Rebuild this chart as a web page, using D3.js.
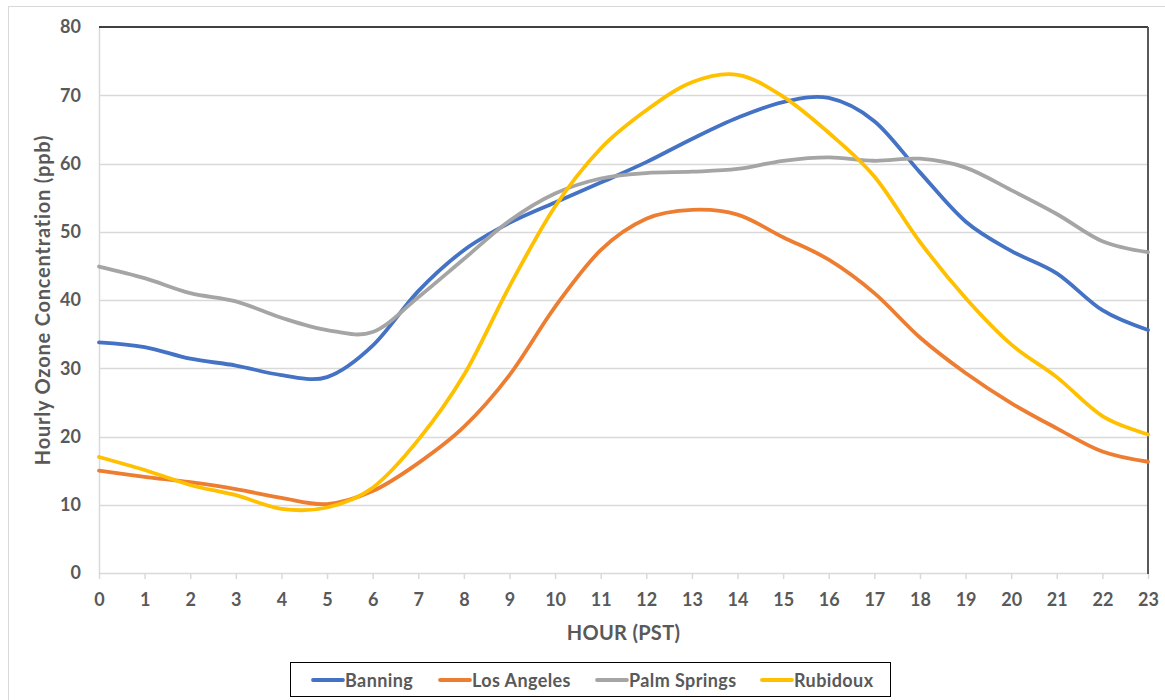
<!DOCTYPE html>
<html>
<head>
<meta charset="utf-8">
<script src="https://cdn.jsdelivr.net/npm/d3@7"></script>
<style>
  html, body { margin: 0; padding: 0; background: #fff; }
  svg { display: block; }
  text { font-family: Lato, "Open Sans", sans-serif; font-weight: bold; fill: #595959; }
</style>
</head>
<body>
<svg id="chart" width="1165" height="700"></svg>
<script>
const hours = d3.range(0, 24);
const hourLabels = hours.map(String);
const yTicks = [0, 10, 20, 30, 40, 50, 60, 70, 80];
const seriesNames = ["Banning", "Los Angeles", "Palm Springs", "Rubidoux"];
const seriesColors = ["#4472C4", "#ED7D31", "#A5A5A5", "#FFC000"];
const banning = [33.8, 33.1, 31.4, 30.4, 29.0, 28.7, 33.3, 41.3, 47.3, 51.3, 54.3, 57.2, 60.2, 63.6, 66.7, 69.0, 69.6, 66.2, 58.7, 51.5, 47.2, 43.9, 38.5, 35.6];
const losAngeles = [15.0, 14.1, 13.3, 12.3, 11.0, 10.1, 12.0, 16.1, 21.4, 29.0, 39.0, 47.3, 51.9, 53.2, 52.5, 49.2, 45.9, 41.0, 34.5, 29.3, 24.9, 21.2, 17.8, 16.3];
const palmSprings = [44.9, 43.2, 41.0, 39.8, 37.4, 35.6, 35.3, 40.4, 46.0, 51.6, 55.6, 57.8, 58.6, 58.8, 59.2, 60.4, 60.9, 60.4, 60.7, 59.4, 56.1, 52.6, 48.6, 47.0];
const rubidoux = [17.0, 15.1, 12.9, 11.4, 9.4, 9.6, 12.5, 19.5, 29.0, 42.0, 53.7, 62.2, 67.8, 71.9, 73.0, 69.8, 64.5, 58.1, 48.5, 40.3, 33.5, 28.7, 23.0, 20.3];
const seriesValues = [banning, losAngeles, palmSprings, rubidoux];

const svg = d3.select("#chart");
const pLeft = 99, pRight = 1148, pTop = 27, pBottom = 573;

// outer frame
svg.append("rect").attr("x", 8.5).attr("y", 6.5).attr("width", 1170).attr("height", 720)
  .attr("fill", "none").attr("stroke", "#D9D9D9").attr("stroke-width", 1);

const x = d3.scaleLinear().domain([0, 23]).range([pLeft, pRight]);
const y = d3.scaleLinear().domain([0, 80]).range([pBottom, pTop]);

// gridlines
svg.append("g").selectAll("line").data(yTicks.filter(d => d > 0 && d < 80)).join("line")
  .attr("x1", pLeft).attr("x2", pRight)
  .attr("y1", d => Math.round(y(d)) + 0.5).attr("y2", d => Math.round(y(d)) + 0.5)
  .attr("stroke", "#D9D9D9").attr("stroke-width", 1.5);

// y axis
const yAxis = svg.append("g").attr("transform", `translate(${pLeft},0)`)
  .call(d3.axisLeft(y).tickValues(yTicks).tickSize(0).tickPadding(18));
yAxis.select(".domain").attr("stroke", "#D9D9D9").attr("stroke-width", 1.5);
yAxis.selectAll("text").style("font-size", "18px").attr("fill", "#595959");

// x axis
const xAxis = svg.append("g").attr("transform", `translate(0,${pBottom})`)
  .call(d3.axisBottom(x).tickValues(hours).tickFormat((d, i) => hourLabels[i]).tickSize(6).tickSizeOuter(0).tickPadding(14));
xAxis.select(".domain").attr("stroke", "#D9D9D9").attr("stroke-width", 1.5);
xAxis.selectAll(".tick line").attr("stroke", "#D9D9D9").attr("stroke-width", 1.5);
xAxis.selectAll("text").style("font-size", "18px").attr("fill", "#595959");

// top and right border
svg.append("line").attr("x1", pLeft).attr("x2", pRight).attr("y1", pTop).attr("y2", pTop)
  .attr("stroke", "#000").attr("stroke-width", 1.5);
svg.append("line").attr("x1", pRight).attr("x2", pRight).attr("y1", pTop).attr("y2", pBottom + 1)
  .attr("stroke", "#595959").attr("stroke-width", 2);

// lines
const line = d3.line().x((d, i) => x(hours[i])).y(d => y(d)).curve(d3.curveCatmullRom.alpha(0));
svg.append("g").selectAll("path").data(seriesValues).join("path")
  .attr("d", d => line(d)).attr("fill", "none")
  .attr("stroke", (d, i) => seriesColors[i]).attr("stroke-width", 3.8)
  .attr("stroke-linecap", "round").attr("stroke-linejoin", "round");

// axis titles
svg.append("text").attr("x", (pLeft + pRight) / 2).attr("y", 640).attr("text-anchor", "middle")
  .style("font-size", "20px").style("letter-spacing", "0.3px").text("HOUR (PST)");
svg.append("text").attr("transform", "translate(50,300) rotate(-90)").attr("text-anchor", "middle")
  .style("font-size", "20px").style("letter-spacing", "0.8px").text("Hourly Ozone Concentration (ppb)");

// legend
const lg = svg.append("g");
lg.append("rect").attr("x", 290.5).attr("y", 662.5).attr("width", 600).attr("height", 34)
  .attr("fill", "#fff").attr("stroke", "#000").attr("stroke-width", 1);
const legX = [313, 440, 597, 762];
seriesNames.forEach((name, i) => {
  lg.append("line").attr("x1", legX[i]).attr("x2", legX[i] + 30).attr("y1", 680).attr("y2", 680)
    .attr("stroke", seriesColors[i]).attr("stroke-width", 3.8).attr("stroke-linecap", "round");
  lg.append("text").attr("x", legX[i] + 32).attr("y", 687).style("font-size", "18px")
    .style("letter-spacing", "0.4px").text(name);
});
</script>
</body>
</html>
